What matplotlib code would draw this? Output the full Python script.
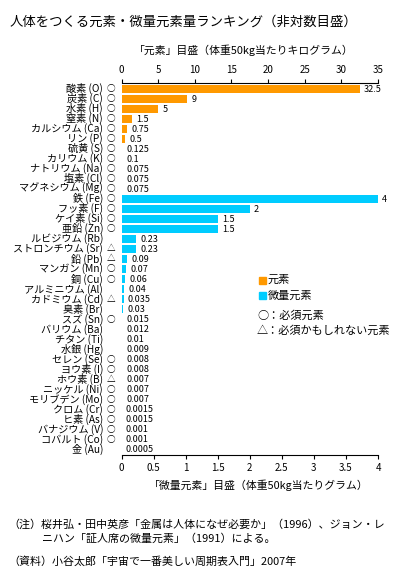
import matplotlib
matplotlib.use("Agg")
import matplotlib.pyplot as plt

plt.rcParams['font.family'] = ['Noto Sans CJK JP', 'DejaVu Sans']

names = ["酸素 (O)", "炭素 (C)", "水素 (H)", "窒素 (N)", "カルシウム (Ca)", "リン (P)",
         "硫黄 (S)", "カリウム (K)", "ナトリウム (Na)", "塩素 (Cl)", "マグネシウム (Mg)",
         "鉄 (Fe)", "フッ素 (F)", "ケイ素 (Si)", "亜鉛 (Zn)", "ルビジウム (Rb)",
         "ストロンチウム (Sr)", "鉛 (Pb)", "マンガン (Mn)", "銅 (Cu)", "アルミニウム (Al)",
         "カドミウム (Cd)", "臭素 (Br)", "スズ (Sn)", "バリウム (Ba)", "チタン (Ti)",
         "水銀 (Hg)", "セレン (Se)", "ヨウ素 (I)", "ホウ素 (B)", "ニッケル (Ni)",
         "モリブデン (Mo)", "クロム (Cr)", "ヒ素 (As)", "バナジウム (V)", "コバルト (Co)",
         "金 (Au)"]
marks = ["○"] * 11 + ["○", "○", "○", "○", "", "△", "△", "○", "○", "",
                      "△", "", "○", "", "", "", "○", "○", "△", "○",
                      "○", "○", "○", "○", "○", ""]
# major elements (kg per 50kg body weight)
major_values = [32.5, 9, 5, 1.5, 0.75, 0.5, 0.125, 0.1, 0.075, 0.075, 0.075]
major_labels = ["32.5", "9", "5", "1.5", "0.75", "0.5", "0.125", "0.1", "0.075", "0.075", "0.075"]
# trace elements (g per 50kg body weight)
trace_values = [4, 2, 1.5, 1.5, 0.23, 0.23, 0.09, 0.07, 0.06, 0.04, 0.035, 0.03,
                0.015, 0.012, 0.01, 0.009, 0.008, 0.008, 0.007, 0.007, 0.007,
                0.0015, 0.0015, 0.001, 0.001, 0.0005]
trace_labels = ["4", "2", "1.5", "1.5", "0.23", "0.23", "0.09", "0.07", "0.06", "0.04",
                "0.035", "0.03", "0.015", "0.012", "0.01", "0.009", "0.008", "0.008",
                "0.007", "0.007", "0.007", "0.0015", "0.0015", "0.001", "0.001", "0.0005"]
top_ticks = [0, 5, 10, 15, 20, 25, 30, 35]
bottom_ticks = [0, 0.5, 1, 1.5, 2, 2.5, 3, 3.5, 4]
bottom_ticklabels = ["0", "0.5", "1", "1.5", "2", "2.5", "3", "3.5", "4"]

ORANGE = "#FF9900"
CYAN = "#00CCFF"
W, H = 416, 575
fig = plt.figure(figsize=(W / 100, H / 100), dpi=100)

L, R, T, B = 121.5, 378, 83, 455
ax = fig.add_axes([L / W, 1 - B / H, (R - L) / W, (B - T) / H])
axt = ax.twiny()

n = len(names)
nmaj = len(major_values)
ypos_maj = list(range(nmaj))
ypos_tr = list(range(nmaj, n))

axt.barh(ypos_maj, major_values, height=0.78, color=ORANGE)
ax.barh(ypos_tr, trace_values, height=0.78, color=CYAN)

ax.set_xlim(0, 4)
axt.set_xlim(0, 35)
ax.set_ylim(n - 0.4, -0.6)
axt.set_ylim(n - 0.4, -0.6)

for y, v, s in zip(ypos_maj, major_values, major_labels):
    axt.annotate(s, (v, y), xytext=(3, 0), textcoords="offset points",
                 va="center", ha="left", fontsize=6.5)
for y, v, s in zip(ypos_tr, trace_values, trace_labels):
    ax.annotate(s, (v, y), xytext=(3, 0), textcoords="offset points",
                va="center", ha="left", fontsize=6.5)

for a in (ax, axt):
    a.spines["left"].set_visible(False)
    a.spines["right"].set_visible(False)
    a.set_yticks([])
ax.spines["top"].set_visible(False)
axt.spines["bottom"].set_visible(False)
ax.spines["bottom"].set_linewidth(0.8)
axt.spines["top"].set_linewidth(0.8)

ax.set_xticks(bottom_ticks)
ax.set_xticklabels(bottom_ticklabels)
ax.tick_params(axis="x", direction="out", length=3, width=0.8, pad=3, labelsize=7)
axt.set_xticks(top_ticks)
axt.tick_params(axis="x", direction="out", length=3, width=0.8, pad=3, labelsize=7)

# element names and marks
for i, (nm, mk) in enumerate(zip(names, marks)):
    y_pix = T + 5.5 + i * (B - T - 11) / (n - 1)
    fig.text(103 / W, 1 - y_pix / H, nm, ha="right", va="center", fontsize=7.3)
    if mk:
        fig.text(111 / W, 1 - y_pix / H, mk, ha="center", va="center", fontsize=6.2)

fig.text(244 / W, 1 - 50 / H, "「元素」目盛（体重50kg当たりキログラム）",
         ha="center", va="center", fontsize=7.8)
fig.text(259 / W, 1 - 485 / H, "「微量元素」目盛（体重50kg当たりグラム）",
         ha="center", va="center", fontsize=7.8)

fig.text(10 / W, 1 - 22 / H, "人体をつくる元素・微量元素量ランキング（非対数目盛）",
         ha="left", va="center", fontsize=9.6)

# legend
for yy, col, lab in [(280, ORANGE, "元素"), (296, CYAN, "微量元素")]:
    fig.patches.append(plt.Rectangle((259 / W, 1 - (yy + 3.5) / H), 7 / W, 7 / H,
                                     transform=fig.transFigure, color=col))
    fig.text(268 / W, 1 - yy / H, lab, ha="left", va="center", fontsize=8)
fig.text(257 / W, 1 - 316 / H, "○：必須元素", ha="left", va="center", fontsize=8)
fig.text(257 / W, 1 - 331 / H, "△：必須かもしれない元素", ha="left", va="center", fontsize=8)

# notes
fig.text(8 / W, 1 - 525 / H, "（注）桜井弘・田中英彦「金属は人体になぜ必要か」（1996）、ジョン・レ",
         ha="left", va="center", fontsize=7.9)
fig.text(42 / W, 1 - 539 / H, "ニハン「証人席の微量元素」（1991）による。",
         ha="left", va="center", fontsize=7.9)
fig.text(8 / W, 1 - 561 / H, "（資料）小谷太郎「宇宙で一番美しい周期表入門」2007年",
         ha="left", va="center", fontsize=7.9)

fig.savefig("out.png", dpi=100)
